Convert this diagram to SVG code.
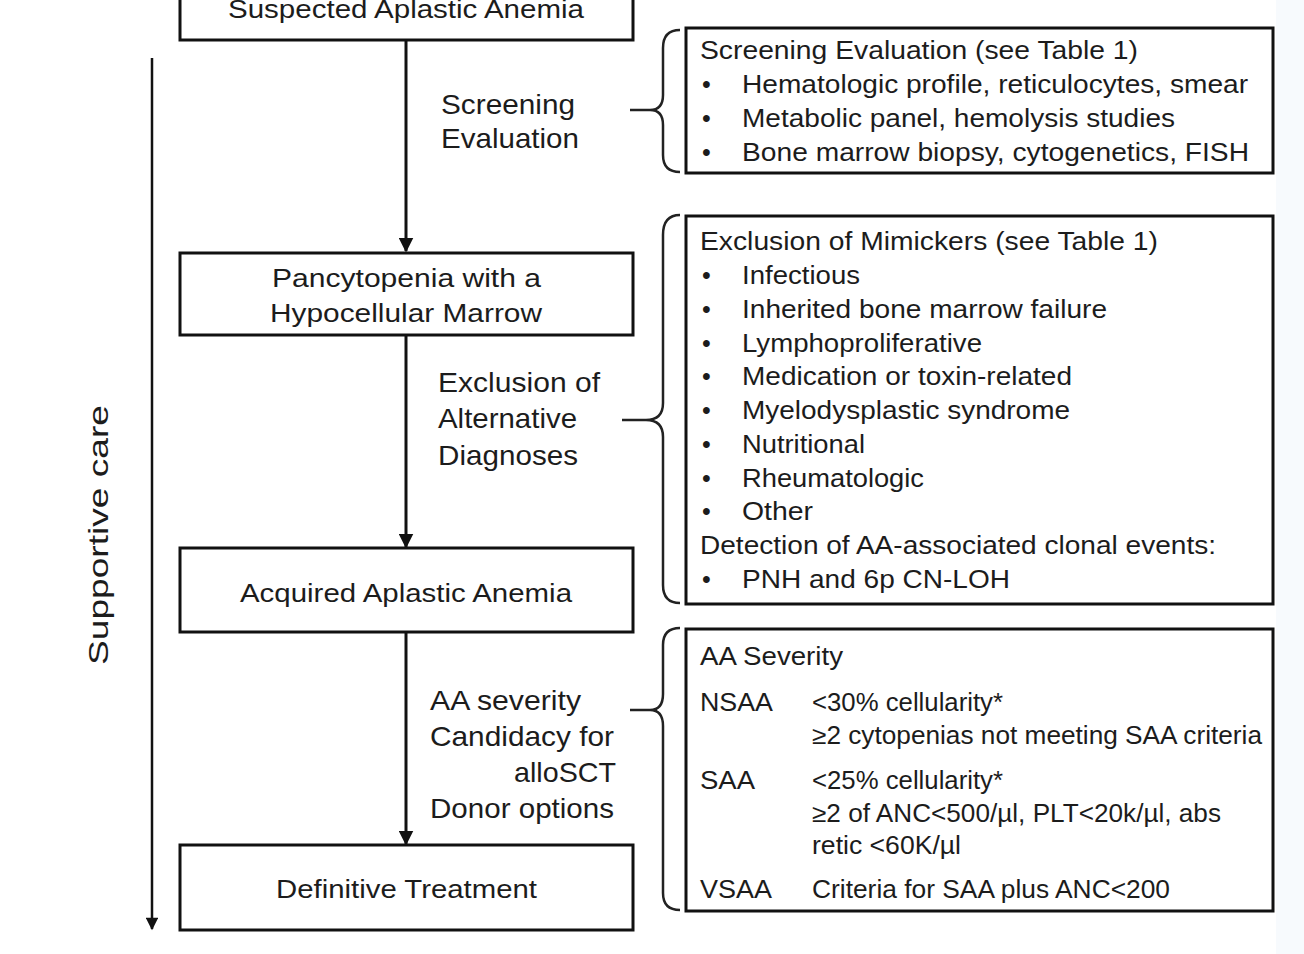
<svg xmlns="http://www.w3.org/2000/svg" width="1304" height="954" viewBox="0 0 1304 954">
<defs>
<style>
.box{fill:#fff;stroke:#111;stroke-width:3}
.t{font-family:"Liberation Sans",Arial,sans-serif;font-size:25px;fill:#1c1c1c}
.c{text-anchor:middle}
.lb{font-size:28px}
.ln{stroke:#111;stroke-width:3;fill:none}
.br{stroke:#222;stroke-width:2.5;fill:none}
</style>
<marker id="ah" viewBox="0 0 10 10" refX="9" refY="5" markerWidth="5" markerHeight="5" orient="auto" markerUnits="strokeWidth">
<path d="M0,0 L10,5 L0,10 Z" fill="#111"/>
</marker>
<marker id="ah2" viewBox="0 0 10 10" refX="9" refY="5" markerWidth="5.5" markerHeight="5" orient="auto" markerUnits="strokeWidth">
<path d="M0,0 L10,5 L0,10 Z" fill="#111"/>
</marker>
</defs>
<rect width="1304" height="954" fill="#fff"/>
<rect x="1276" y="0" width="28" height="954" fill="#f7fafd"/>

<g id="connectors">
<line class="ln" x1="406" y1="40" x2="406" y2="251" marker-end="url(#ah)"/>
<line class="ln" x1="406" y1="335" x2="406" y2="547" marker-end="url(#ah)"/>
<line class="ln" x1="406" y1="632" x2="406" y2="844" marker-end="url(#ah)"/>
<line x1="152" y1="58" x2="152" y2="929" stroke="#111" stroke-width="2.5" marker-end="url(#ah2)"/>
<path class="br" d="M680,30 Q663,30 663,48 L663,95 Q663,110 650,110 Q663,110 663,125 L663,155 Q663,172 680,172 M630,110 L650,110"/>
<path class="br" d="M680,215 Q663,215 663,235 L663,403 Q663,420 646,420 Q663,420 663,437 L663,585 Q663,603 680,603 M622,420 L646,420"/>
<path class="br" d="M680,628 Q663,628 663,645 L663,694 Q663,710 650,710 Q663,710 663,726 L663,893 Q663,910 680,910 M630,710 L650,710"/>
</g>

<g id="supportive">
<text class="t c lb" transform="translate(108,535) rotate(-90)" textLength="260" lengthAdjust="spacingAndGlyphs">Supportive care</text>
</g>

<g id="n1">
<rect class="box" x="180" y="-10" width="453" height="50"/>
<text class="t" x="228" y="18" font-size="26" textLength="356" lengthAdjust="spacingAndGlyphs">Suspected Aplastic Anemia</text>
</g>
<g id="n2">
<rect class="box" x="180" y="253" width="453" height="82"/>
<text class="t" x="272" y="287" font-size="26" textLength="269" lengthAdjust="spacingAndGlyphs">Pancytopenia with a</text>
<text class="t" x="270" y="322" font-size="26" textLength="272" lengthAdjust="spacingAndGlyphs">Hypocellular Marrow</text>
</g>
<g id="n3">
<rect class="box" x="180" y="548" width="453" height="84"/>
<text class="t" x="240" y="602" font-size="26" textLength="332" lengthAdjust="spacingAndGlyphs">Acquired Aplastic Anemia</text>
</g>
<g id="n4">
<rect class="box" x="180" y="845" width="453" height="85"/>
<text class="t" x="276" y="898" font-size="26" textLength="261" lengthAdjust="spacingAndGlyphs">Definitive Treatment</text>
</g>

<g id="labels">
<text class="t lb" x="441" y="114" textLength="134" lengthAdjust="spacingAndGlyphs">Screening</text>
<text class="t lb" x="441" y="148" textLength="138" lengthAdjust="spacingAndGlyphs">Evaluation</text>
<text class="t lb" x="438" y="392" textLength="162" lengthAdjust="spacingAndGlyphs">Exclusion of</text>
<text class="t lb" x="438" y="428" textLength="139" lengthAdjust="spacingAndGlyphs">Alternative</text>
<text class="t lb" x="438" y="465" textLength="140" lengthAdjust="spacingAndGlyphs">Diagnoses</text>
<text class="t lb" x="430" y="710" textLength="151" lengthAdjust="spacingAndGlyphs">AA severity</text>
<text class="t lb" x="430" y="746" textLength="184" lengthAdjust="spacingAndGlyphs">Candidacy for</text>
<text class="t lb" x="514" y="782" textLength="102" lengthAdjust="spacingAndGlyphs">alloSCT</text>
<text class="t lb" x="430" y="818" textLength="184" lengthAdjust="spacingAndGlyphs">Donor options</text>
</g>

<g id="box-screening">
<rect class="box" x="686" y="28" width="587" height="145"/>
<text class="t" x="700" y="59" textLength="438" lengthAdjust="spacingAndGlyphs">Screening Evaluation (see Table 1)</text>
<text class="t" x="702" y="93">•</text><text class="t" x="742" y="93" textLength="506" lengthAdjust="spacingAndGlyphs">Hematologic profile, reticulocytes, smear</text>
<text class="t" x="702" y="127">•</text><text class="t" x="742" y="127" textLength="433" lengthAdjust="spacingAndGlyphs">Metabolic panel, hemolysis studies</text>
<text class="t" x="702" y="161">•</text><text class="t" x="742" y="161" textLength="507" lengthAdjust="spacingAndGlyphs">Bone marrow biopsy, cytogenetics, FISH</text>
</g>

<g id="box-exclusion">
<rect class="box" x="686" y="216" width="587" height="388"/>
<text class="t" x="700" y="250" textLength="458" lengthAdjust="spacingAndGlyphs">Exclusion of Mimickers (see Table 1)</text>
<text class="t" x="702" y="284">•</text><text class="t" x="742" y="284" textLength="118" lengthAdjust="spacingAndGlyphs">Infectious</text>
<text class="t" x="702" y="318">•</text><text class="t" x="742" y="318" textLength="365" lengthAdjust="spacingAndGlyphs">Inherited bone marrow failure</text>
<text class="t" x="702" y="352">•</text><text class="t" x="742" y="352" textLength="240" lengthAdjust="spacingAndGlyphs">Lymphoproliferative</text>
<text class="t" x="702" y="385">•</text><text class="t" x="742" y="385" textLength="330" lengthAdjust="spacingAndGlyphs">Medication or toxin-related</text>
<text class="t" x="702" y="419">•</text><text class="t" x="742" y="419" textLength="328" lengthAdjust="spacingAndGlyphs">Myelodysplastic syndrome</text>
<text class="t" x="702" y="453">•</text><text class="t" x="742" y="453" textLength="123" lengthAdjust="spacingAndGlyphs">Nutritional</text>
<text class="t" x="702" y="487">•</text><text class="t" x="742" y="487" textLength="182" lengthAdjust="spacingAndGlyphs">Rheumatologic</text>
<text class="t" x="702" y="520">•</text><text class="t" x="742" y="520" textLength="71" lengthAdjust="spacingAndGlyphs">Other</text>
<text class="t" x="700" y="554" textLength="516" lengthAdjust="spacingAndGlyphs">Detection of AA-associated clonal events:</text>
<text class="t" x="702" y="588">•</text><text class="t" x="742" y="588" textLength="268" lengthAdjust="spacingAndGlyphs">PNH and 6p CN-LOH</text>
</g>

<g id="box-severity">
<rect class="box" x="686" y="629" width="587" height="282"/>
<text class="t" x="700" y="665" textLength="143" lengthAdjust="spacingAndGlyphs">AA Severity</text>
<text class="t" x="700" y="711" textLength="73" lengthAdjust="spacingAndGlyphs">NSAA</text>
<text class="t" x="812" y="711" textLength="191" lengthAdjust="spacingAndGlyphs">&lt;30% cellularity*</text>
<text class="t" x="812" y="744" textLength="450" lengthAdjust="spacingAndGlyphs">≥2 cytopenias not meeting SAA criteria</text>
<text class="t" x="700" y="789" textLength="55" lengthAdjust="spacingAndGlyphs">SAA</text>
<text class="t" x="812" y="789" textLength="191" lengthAdjust="spacingAndGlyphs">&lt;25% cellularity*</text>
<text class="t" x="812" y="822" textLength="409" lengthAdjust="spacingAndGlyphs">≥2 of ANC&lt;500/µl, PLT&lt;20k/µl, abs</text>
<text class="t" x="812" y="854" textLength="149" lengthAdjust="spacingAndGlyphs">retic &lt;60K/µl</text>
<text class="t" x="700" y="898" textLength="72" lengthAdjust="spacingAndGlyphs">VSAA</text>
<text class="t" x="812" y="898" textLength="358" lengthAdjust="spacingAndGlyphs">Criteria for SAA plus ANC&lt;200</text>
</g>
</svg>
